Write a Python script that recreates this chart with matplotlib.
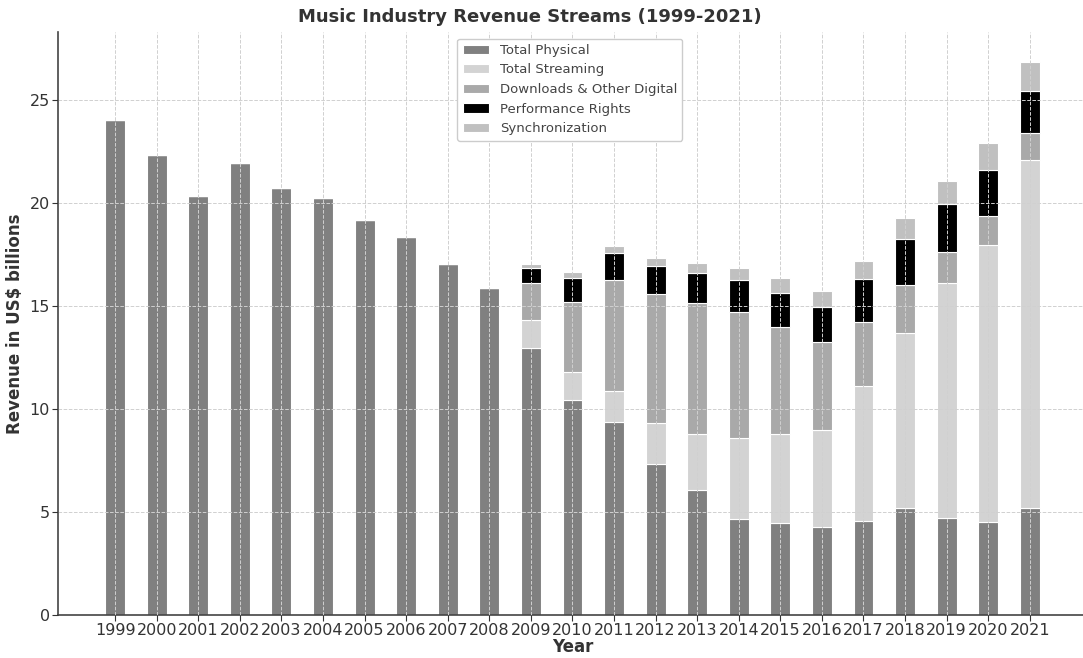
import numpy as np
import matplotlib.pyplot as plt

# ── Data (US$ billions) ───────────────────────────────────────────────────────
years = [str(y) for y in range(1999, 2022)]

physical = [24.05, 22.35, 20.35, 21.95, 20.75, 20.25, 19.15, 18.35, 17.05, 15.85,
            12.95, 10.45, 9.35, 7.35, 6.05, 4.65, 4.45, 4.25, 4.55, 5.2, 4.7, 4.5, 5.2]
streaming = [0, 0, 0, 0, 0, 0, 0, 0, 0, 0,
             1.35, 1.35, 1.5, 1.95, 2.75, 3.95, 4.35, 4.75, 6.55, 8.5, 11.4, 13.45, 16.9]
downloads = [0, 0, 0, 0, 0, 0, 0, 0, 0, 0,
             1.8, 3.4, 5.4, 6.3, 6.35, 6.1, 5.2, 4.25, 3.1, 2.3, 1.5, 1.4, 1.3]
performance = [0, 0, 0, 0, 0, 0, 0, 0, 0, 0,
               0.75, 1.15, 1.3, 1.35, 1.45, 1.55, 1.65, 1.7, 2.1, 2.25, 2.35, 2.25, 2.05]
synchronization = [0, 0, 0, 0, 0, 0, 0, 0, 0, 0,
                   0.2, 0.3, 0.35, 0.4, 0.5, 0.6, 0.7, 0.8, 0.9, 1.0, 1.1, 1.3, 1.4]

series = [
    ('Total Physical', physical, '#808080'),
    ('Total Streaming', streaming, '#d3d3d3'),
    ('Downloads & Other Digital', downloads, '#a9a9a9'),
    ('Performance Rights', performance, '#000000'),
    ('Synchronization', synchronization, '#c0c0c0'),
]

TEXT = '#333333'

# ── Plot ──────────────────────────────────────────────────────────────────────
fig = plt.figure(figsize=(10.83, 6.58), dpi=100)
ax = fig.add_axes([58 / 1083, 43 / 658, 1030 / 1083, 583 / 658])

x = np.arange(len(years))
bottom = np.zeros(len(years))
for label, vals, color in series:
    vals = np.array(vals)
    ax.bar(x, vals, 0.48, bottom=bottom, color=color, label=label,
           edgecolor='white', linewidth=0.8)
    bottom += vals

ax.set_xticks(x)
ax.set_xticklabels(years)
ax.set_xlim(-1.375, 23.4)
ax.set_ylim(0, 28.3)
ax.set_yticks([0, 5, 10, 15, 20, 25])

ax.grid(True, color='#d0d0d0', linestyle='--', linewidth=0.7)
ax.set_axisbelow(False)

for side in ('top', 'right'):
    ax.spines[side].set_visible(False)
for side in ('left', 'bottom'):
    ax.spines[side].set_color('#444444')
    ax.spines[side].set_linewidth(1.2)

ax.tick_params(colors=TEXT, labelsize=11.5, length=4, pad=2)
ax.set_xlabel('Year', fontsize=12, fontweight='bold', color=TEXT, labelpad=0)
ax.set_ylabel('Revenue in US$ billions', fontsize=12, fontweight='bold', color=TEXT,
              labelpad=4)

fig.text(530 / 1083, 1 - 17 / 658, 'Music Industry Revenue Streams (1999-2021)',
         ha='center', va='center', fontsize=13, fontweight='bold', color=TEXT)

leg = ax.legend(loc='upper center', fontsize=9.5, labelcolor='#444444',
                framealpha=1, edgecolor='#cccccc', bbox_to_anchor=(0.497, 1.0))

fig.savefig('out.png', dpi=100, facecolor='white')
